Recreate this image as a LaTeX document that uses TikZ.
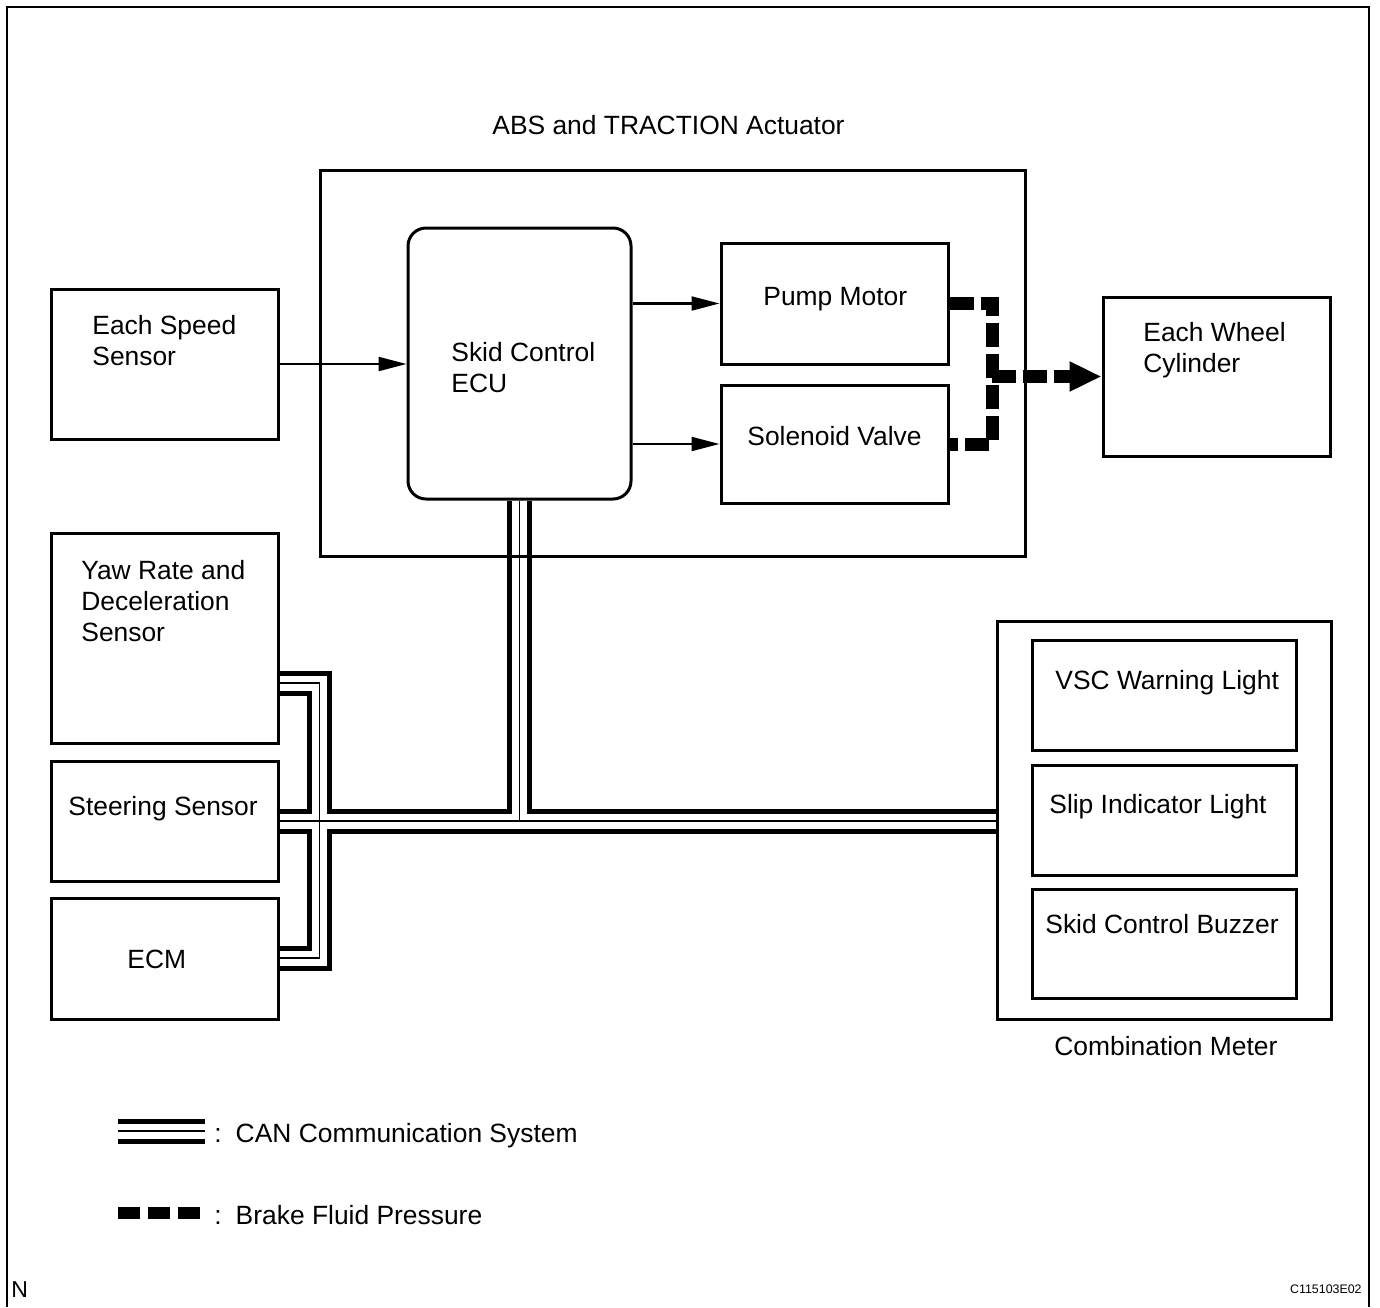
\documentclass[tikz,border=0pt]{standalone}
\usepackage{fontspec}
\setmainfont{Liberation Sans}
\usetikzlibrary{arrows.meta}

\tikzset{
	box/.style={draw, line width=1.5pt, inner sep=0pt},
	lbl/.style={inner sep=0pt, font=\fontsize{13.2}{15.6}\selectfont, align=left},
	sig/.style={line width=1.1pt, -{Triangle[length=14pt,width=7pt]}},
	fluid/.style={line width=6.5pt, dash pattern=on 12pt off 3.5pt},
}

\begin{document}
\begin{tikzpicture}[x=0.5pt, y=-0.5pt]
	\useasboundingbox (0,0) rectangle (1380,1307);
	
	%FRAME
	\draw [line width=1pt] (7,1307) -- (7,7) -- (1369,7) -- (1369,1307);
	
	%BOXES
	\node[box, minimum width=113.5pt, minimum height=75pt] (speed) at (164.5,364) {};
	\node[box, rounded corners=9pt, minimum width=111.5pt, minimum height=135.5pt] (ecu) at (519.5,363.5) {};
	\node[box, minimum width=113.5pt, minimum height=60.5pt] (pump) at (834.5,303.5) {};
	\node[box, minimum width=113.5pt, minimum height=59pt] (valve) at (834.5,444) {};
	\node[box, minimum width=113.5pt, minimum height=79.5pt] (wheel) at (1216.5,376.5) {};
	\node[box, minimum width=113.5pt, minimum height=105pt] (yaw) at (164.5,638) {};
	\node[box, minimum width=113.5pt, minimum height=60pt] (steer) at (164.5,821) {};
	\node[box, minimum width=113.5pt, minimum height=60.5pt] (ecm) at (164.5,958.5) {};
	\node[box, minimum width=167pt, minimum height=199pt] (meter) at (1164,820) {};
	\node[box, minimum width=132pt, minimum height=55pt] (vsc) at (1164,695) {};
	\node[box, minimum width=132pt, minimum height=55pt] (slip) at (1164,820) {};
	\node[box, minimum width=132pt, minimum height=54.5pt] (buzzer) at (1164,943.5) {};
	
	%CAN
	\coordinate (yawtap) at (319.5,683);
	\coordinate (ecmtap) at (319.5,958);
	\foreach \w/\c in {12.5pt/black, 7.5pt/white, 0.9pt/black}
		\draw [line width=\w, color=\c, line join=miter]
			(yaw.east |- yawtap) -- (yawtap) -- (ecmtap) -- (ecm.east |- ecmtap)
			(steer.east) -- (meter.west |- steer.east)
			(ecu.south) -- (ecu.south |- steer.east);
	
	\node[box, minimum width=352.5pt, minimum height=193pt] (act) at (672.5,363) {};
	
	%SIGNALS
	\draw [sig] (speed.east) -- (speed.east -| ecu.west);
	\draw [sig] (pump.west -| ecu.east) -- (pump.west);
	\draw [sig] (valve.west -| ecu.east) -- (valve.west);
	
	%FLUID
	\coordinate (fork) at (992,376.5);
	\draw [fluid] (pump.east) -- (pump.east -| fork) -- (valve.east -| fork) -- (valve.east);
	\draw [fluid, -{Triangle[length=16pt,width=14pt]}] (fork) -- (wheel.west);
	
	%TEXTS
	\node[lbl, anchor=base west] (acttxt) at (492,134) {ABS and TRACTION Actuator};
	\node[lbl, anchor=north west] (speedtxt) at (92,315) {Each Speed\\Sensor};
	\node[lbl, anchor=north west] (ecutxt) at (451,342) {Skid Control\\ECU};
	\node[lbl, anchor=base west] (pumptxt) at (763,305) {Pump Motor};
	\node[lbl, anchor=base west] (valvetxt) at (747,445) {Solenoid Valve};
	\node[lbl, anchor=north west] (wheeltxt) at (1143,322) {Each Wheel\\Cylinder};
	\node[lbl, anchor=north west] (yawtxt) at (81,560) {Yaw Rate and\\Deceleration\\Sensor};
	\node[lbl, anchor=base west] (steertxt) at (68,815) {Steering Sensor};
	\node[lbl, anchor=base west] (ecmtxt) at (127,968) {ECM};
	\node[lbl, anchor=base west] (vsctxt) at (1055,689) {VSC Warning Light};
	\node[lbl, anchor=base west] (sliptxt) at (1049,813) {Slip Indicator Light};
	\node[lbl, anchor=base west] (buzzertxt) at (1045,933) {Skid Control Buzzer};
	\node[lbl, anchor=base west] (metertxt) at (1054,1055) {Combination Meter};
	
	%LEGEND
	\coordinate (canA) at (118,1131);
	\coordinate (canB) at (205,1131);
	\foreach \w/\c in {12.5pt/black, 7.5pt/white, 0.9pt/black}
		\draw [line width=\w, color=\c] (canA) -- (canB);
	\coordinate (bfA) at (118,1213);
	\coordinate (bfB) at (202,1213);
	\draw [line width=6pt, dash pattern=on 11pt off 4pt] (bfA) -- (bfB);
	\node[lbl, anchor=base west] (cantxt) at (214,1142) {:\hspace{7pt}CAN Communication System};
	\node[lbl, anchor=base west] (bftxt) at (214,1224) {:\hspace{7pt}Brake Fluid Pressure};
	
	\node[inner sep=0pt, anchor=base west, font=\fontsize{11.5}{13}\selectfont] (ntxt) at (11,1297) {N};
	\node[inner sep=0pt, anchor=base east, font=\fontsize{6.2}{7}\selectfont] (codetxt) at (1362,1293) {C115103E02};
	
\end{tikzpicture}
\end{document}
